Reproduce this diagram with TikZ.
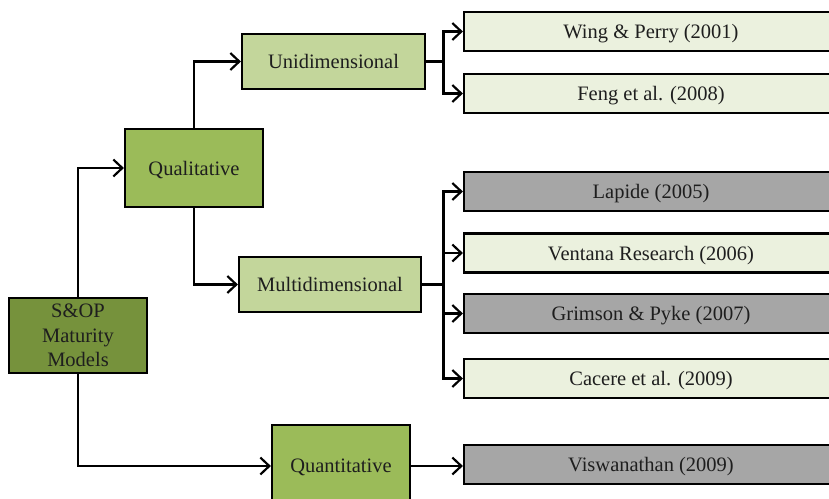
\documentclass[tikz,border=0pt]{standalone}
\usepackage{fontspec}
\setmainfont{Liberation Serif}
\usetikzlibrary{arrows.meta}
\definecolor{rootfill}{HTML}{76923C}
\definecolor{midfill}{HTML}{9BBB59}
\definecolor{subfill}{HTML}{C3D69B}
\definecolor{leaffill}{HTML}{EBF1DE}
\definecolor{grayfill}{HTML}{A6A6A6}
\definecolor{ink}{HTML}{1E1E1E}
\tikzset{
  box/.style={draw=black, line width=2.2pt, rectangle, inner sep=0pt, align=center,
    text=ink, font=\fontsize{20.5}{24.5}\selectfont},
  onerow/.style={box, text depth=0pt},
  rootbox/.style={box, fill=rootfill, minimum width=138pt, minimum height=75pt},
  catbox/.style={onerow, fill=midfill, minimum width=138pt},
  subbox/.style={onerow, fill=subfill, minimum width=182pt, minimum height=55pt},
  refbox/.style={onerow, fill=leaffill, minimum width=374pt, minimum height=39pt},
  grayref/.style={refbox, fill=grayfill},
  arr/.style={draw=black, line width=2.2pt, -{Straight Barb[length=9pt,width=17pt,line width=2.2pt]}},
  link/.style={draw=black, line width=2.2pt},
}
\begin{document}
\begin{tikzpicture}[x=1pt,y=-1pt]
\useasboundingbox (0,0) rectangle (829,498);

% tree nodes
\node[rootbox] (sop) at (78,335.5) {S\&OP\\Maturity\\Models};
\node[catbox, minimum height=78pt] (qual) at (194,168) {Qualitative};
\node[catbox, minimum height=82pt] (quant) at (341,466) {Quantitative};
\node[subbox, minimum width=183pt] (uni) at (333.5,61.5) {Unidimensional};
\node[subbox] (multi) at (330,284.5) {Multidimensional};

% references
\node[refbox]  (wing)   at (651,31.5)  {Wing \& Perry (2001)};
\node[refbox]  (feng)   at (651,93.5)  {Feng et al. (2008)};
\node[grayref] (lapide) at (651,191.5) {Lapide (2005)};
\node[refbox]  (vent)   at (651,253)   {Ventana Research (2006)};
\node[grayref] (grim)   at (651,313.5) {Grimson \& Pyke (2007)};
\node[refbox]  (cac)    at (651,378.5) {Cacere et al. (2009)};
\node[grayref] (visw)   at (651,464.5) {Viswanathan (2009)};

% branching points
\coordinate (ubr) at (443.5,61.5);
\coordinate (mbr) at (443.5,284.5);

% connectors
\draw[arr] (sop.north) |- (qual.west);
\draw[arr] (sop.south) |- (quant.west);
\draw[arr] (qual.north) |- (uni.west);
\draw[arr] (qual.south) |- (multi.west);

\draw[link] (uni.east) -- (ubr);
\draw[arr] (ubr) |- (wing.west);
\draw[arr] (ubr) |- (feng.west);

\draw[link] (multi.east) -- (mbr);
\draw[arr] (mbr) |- (lapide.west);
\draw[arr] (mbr) |- (vent.west);
\draw[arr] (mbr) |- (grim.west);
\draw[arr] (mbr) |- (cac.west);

\draw[arr] (quant.east) -- (quant.east -| visw.west);
\end{tikzpicture}
\end{document}
